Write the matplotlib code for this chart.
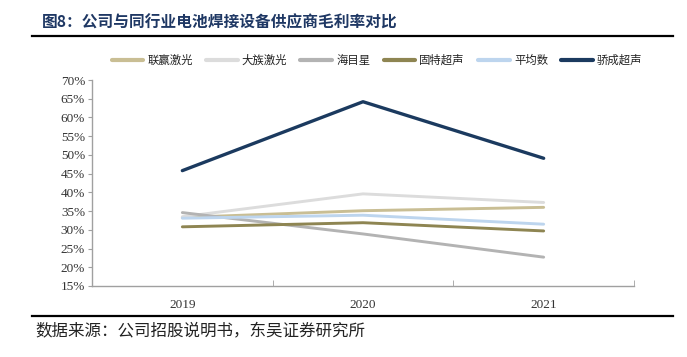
import matplotlib
matplotlib.use("Agg")
import matplotlib.pyplot as plt
from matplotlib.lines import Line2D
from matplotlib.ticker import FuncFormatter, FixedLocator

plt.rcParams['font.family'] = ['Noto Sans CJK SC', 'DejaVu Sans']

# Data (gross margin, %)
years = ['2019', '2020', '2021']
series_names = ['联赢激光', '大族激光', '海目星', '固特超声', '平均数', '骄成超声']
lianying = [33.3, 35.1, 36.0]
dazu = [33.5, 39.6, 37.3]
haimuxing = [34.6, 28.9, 22.7]
gute = [30.8, 31.9, 29.7]
average = [33.1, 33.9, 31.5]
jiaocheng = [45.8, 64.2, 49.1]

colors = ['#C9BE94', '#DCDCDC', '#B3B3B3', '#8E8552', '#BDD5EE', '#1B3A5F']
all_series = [lianying, dazu, haimuxing, gute, average, jiaocheng]

fig = plt.figure(figsize=(6.87, 3.57), dpi=100)
ax = fig.add_axes([92 / 687, 1 - 286 / 357, 542 / 687, 206 / 357])

x = range(len(years))
for vals, c, name in zip(all_series, colors, series_names):
    lw = 2.4 if name == '骄成超声' else 2.1
    ax.plot(x, vals, color=c, lw=lw, solid_capstyle='round', label=name)

ax.set_xlim(-0.5, 2.5)
ax.set_ylim(15, 70)
ax.set_yticks(range(15, 71, 5))
ax.yaxis.set_major_formatter(FuncFormatter(lambda v, p: f'{int(v)}%'))
ax.set_xticks(list(x))
ax.set_xticklabels(years)
ax.xaxis.set_minor_locator(FixedLocator([0.5, 1.5, 2.5]))
ax.tick_params(axis='x', which='major', length=0, pad=9)
ax.tick_params(axis='x', which='minor', length=4, direction='in', color='#A0A0A0')
ax.tick_params(axis='y', length=3, direction='out', color='#A0A0A0', pad=2)
for lab in ax.get_xticklabels() + ax.get_yticklabels():
    lab.set_fontfamily('Liberation Serif')
    lab.set_fontsize(9.5)
    lab.set_color('#333333')

for s in ['top', 'right']:
    ax.spines[s].set_visible(False)
for s in ['left', 'bottom']:
    ax.spines[s].set_color('#A0A0A0')
    ax.spines[s].set_linewidth(1.0)

leg = fig.legend(loc='center', bbox_to_anchor=(377 / 687, 1 - 60 / 357), ncol=6,
                 frameon=False, handlelength=2.8, handletextpad=0.35,
                 columnspacing=1.15, prop={'family': 'Noto Sans CJK SC', 'size': 8.2})
for h in leg.get_lines():
    h.set_linewidth(3)
for t in leg.get_texts():
    t.set_color('#222222')

# title and rules
fig.text(42 / 687, 1 - 22 / 357, '图8：公司与同行业电池焊接设备供应商毛利率对比',
         fontsize=11.3, fontweight='bold', color='#1F3864', va='center', ha='left')
fig.add_artist(Line2D([32 / 687, 673 / 687], [1 - 36 / 357] * 2, color='black', lw=1.6))
fig.add_artist(Line2D([32 / 687, 673 / 687], [1 - 316 / 357] * 2, color='black', lw=1.6))
fig.text(35 / 687, 1 - 331 / 357, '数据来源：公司招股说明书，东吴证券研究所',
         fontsize=11.9, color='#222222', va='center', ha='left')

fig.savefig('out.png', dpi=100)
